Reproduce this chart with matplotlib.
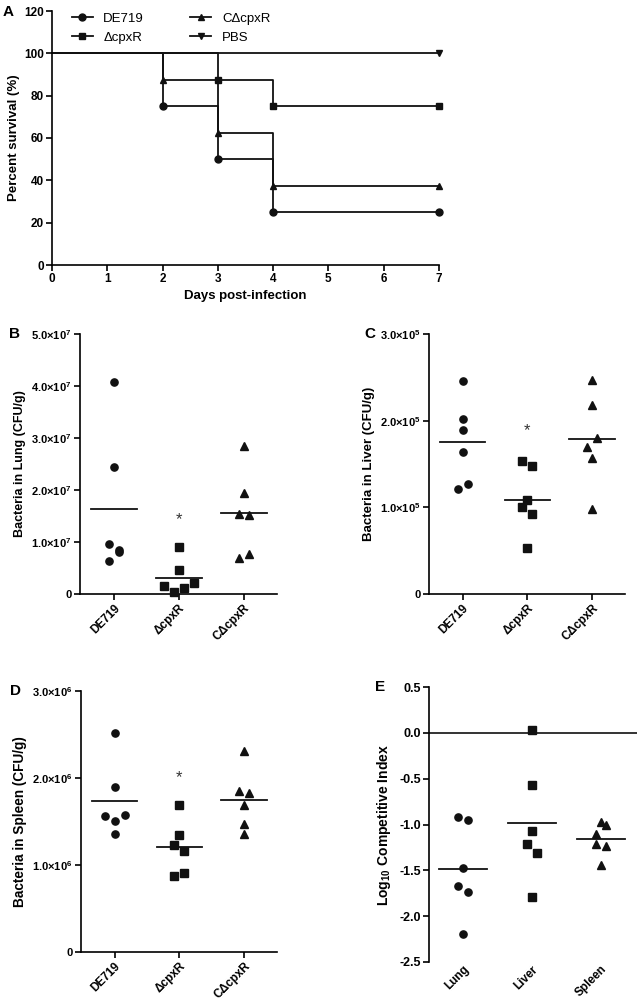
import numpy as np
import matplotlib
matplotlib.use("Agg")
import matplotlib.pyplot as plt
from matplotlib.lines import Line2D

plt.rcParams['font.family'] = ['Liberation Sans', 'DejaVu Sans']
plt.rcParams['mathtext.fontset'] = 'custom'
plt.rcParams['mathtext.rm'] = 'Liberation Sans:bold'
plt.rcParams['mathtext.bf'] = 'Liberation Sans:bold'
plt.rcParams['mathtext.default'] = 'rm'

# ---------------- Data ----------------
# Panel A: survival curves
days_de719 = [0, 2, 3, 4, 7]
surv_de719 = [100, 75, 50, 25, 25]
days_dcpxr = [0, 3, 4, 7]
surv_dcpxr = [100, 87.5, 75, 75]
days_cdcpxr = [0, 2, 3, 4, 7]
surv_cdcpxr = [100, 87.5, 62.5, 37.5, 37.5]
days_pbs = [0, 7]
surv_pbs = [100, 100]

strains = ['DE719', '\u0394cpxR', 'C\u0394cpxR']

# Panel B: lung (x1e6 CFU/g)
lung_de719 = [40.7, 24.5, 9.6, 8.5, 8.1, 6.4]
lung_dcpxr = [9.0, 4.55, 1.5, 0.45, 1.1, 2.05]
lung_cdcpxr = [28.5, 19.4, 15.3, 15.2, 6.9, 7.6]
lung_star = 14.3

# Panel C: liver (x1e3 CFU/g)
liver_de719 = [246.3, 202.5, 188.7, 163.4, 121.2, 127.4]
liver_dcpxr = [153.4, 147.3, 108.2, 100.1, 92.1, 52.9]
liver_cdcpxr = [246.6, 218.6, 179.5, 169.5, 156.9, 98.6]
liver_star = 188.0

# Panel D: spleen (x1e6 CFU/g)
spleen_de719 = [2.512, 1.891, 1.561, 1.507, 1.576, 1.362]
spleen_dcpxr = [1.692, 1.346, 1.227, 1.162, 0.909, 0.875]
spleen_cdcpxr = [2.309, 1.845, 1.826, 1.688, 1.477, 1.358]
spleen_star = 2.01

# Panel E: log10 competitive index
organs = ['Lung', 'Liver', 'Spleen']
ci_lung = [-0.918, -0.946, -1.478, -1.67, -1.733, -2.19]
ci_liver = [0.027, -0.565, -1.071, -1.209, -1.307, -1.787]
ci_spleen = [-0.969, -1.005, -1.107, -1.213, -1.238, -1.438]

# jitter layout (category units)
jit_B = [[0, 0, -0.077, 0.077, 0.077, -0.077],
         [0, 0, -0.23, -0.08, 0.08, 0.23],
         [0, 0, -0.077, 0.077, -0.077, 0.077]]
jit_C = [[0, 0, 0, 0, -0.077, 0.077],
         [-0.087, 0.072, 0, -0.082, 0.072, 0],
         [0, 0, 0.077, -0.077, 0, 0]]
jit_D = [[0, 0, -0.154, 0, 0.154, 0],
         [0, 0, -0.077, 0.077, 0.077, -0.077],
         [0, -0.077, 0.077, 0, 0, 0]]
jit_E = [[-0.072, 0.072, 0, -0.072, 0.072, 0],
         [0, 0, 0, -0.072, 0.077, 0],
         [0, 0.072, -0.077, -0.077, 0.072, 0]]

markers = ['o', 's', '^']
W, H = 638, 1002
fig = plt.figure(figsize=(W / 100, H / 100), dpi=100)


def box(l, t, r, b):
    return [l / W, 1 - b / H, (r - l) / W, (b - t) / H]


LW = 1.2
INK = '#111111'


def style_axes(ax, tickfs=8):
    for s in ['top', 'right']:
        ax.spines[s].set_visible(False)
    for s in ['left', 'bottom']:
        ax.spines[s].set_linewidth(LW)
    ax.tick_params(direction='out', width=LW, length=4, labelsize=tickfs, pad=2)
    for lab in ax.get_yticklabels() + ax.get_xticklabels():
        lab.set_fontweight('bold')


# ---------------- Panel A ----------------
axA = fig.add_axes(box(52, 11, 439, 265))
series = [(days_de719, surv_de719, 'o', 'DE719'),
          (days_dcpxr, surv_dcpxr, 's', '\u0394cpxR'),
          (days_cdcpxr, surv_cdcpxr, '^', 'C\u0394cpxR'),
          (days_pbs, surv_pbs, 'v', 'PBS')]
handles = []
for d, s, m, lab in series:
    axA.step(d, s, where='post', color=INK, lw=1.3, clip_on=False)
    axA.plot(d[1:], s[1:], ls='none', marker=m, color=INK, ms=5, clip_on=False)
    handles.append(Line2D([], [], color=INK, lw=1.3, marker=m, ms=5, label=lab))
axA.set_xlim(0, 7)
axA.set_ylim(0, 120)
axA.set_xticks(range(0, 8))
axA.set_yticks(range(0, 121, 20))
style_axes(axA, 8.5)
axA.set_xlabel('Days post-infection', fontsize=9.5, fontweight='bold', labelpad=3)
axA.set_ylabel('Percent survival (%)', fontsize=9.5, fontweight='bold', labelpad=3)
axA.legend(handles=handles, ncol=2, frameon=False, loc='upper left',
           bbox_to_anchor=(0.02, 1.04), fontsize=9.5, handlelength=1.6,
           columnspacing=3.5, labelspacing=0.5, handletextpad=0.8)
fig.text(3 / W, 1 - 12 / H, 'A', fontsize=11, fontweight='bold', va='center', ha='left')


def dot_panel(rect, groups, jits, labels, ylim, yticks, yticklabels, ylabel, star_y,
              letter, letter_xy, hline=None, star_idx=1, ylabfs=9, tickfs=8):
    ax = fig.add_axes(box(*rect))
    for i, (vals, jit) in enumerate(zip(groups, jits)):
        xs = np.full(len(vals), i, dtype=float) + np.array(jit)
        ax.plot(xs, vals, ls='none', marker=markers[i], color=INK, ms=5.2,
                clip_on=False, zorder=3)
        mu = np.mean(vals)
        ax.plot([i - 0.35, i + 0.35], [mu, mu], color=INK, lw=1.3, zorder=2)
    if star_y is not None:
        ax.text(star_idx, star_y, '*', ha='center', va='center', fontsize=12, color='#333333')
    ax.set_xlim(-0.52, 2.51)
    ax.set_ylim(*ylim)
    ax.set_yticks(yticks)
    ax.set_yticklabels(yticklabels)
    ax.set_xticks(range(len(labels)))
    ax.set_xticklabels(labels, rotation=45, ha='right', rotation_mode='anchor')
    style_axes(ax, tickfs)
    for lab in ax.get_xticklabels():
        lab.set_fontsize(8.5)
    ax.set_ylabel(ylabel, fontsize=ylabfs, fontweight='bold', labelpad=4)
    if hline is not None:
        ax.axhline(hline, color=INK, lw=1.2, zorder=1)
    fig.text(letter_xy[0] / W, 1 - letter_xy[1] / H, letter, fontsize=11,
             fontweight='bold', va='center', ha='left')
    return ax


def sci_labels(vals, exp):
    out = []
    for v in vals:
        if v == 0:
            out.append('0')
        else:
            out.append(r'%.1f$\mathregular{\times}$10$^{%d}$' % (v, exp))
    return out


# Panel B
axB = dot_panel((80, 334, 277, 594), [lung_de719, lung_dcpxr, lung_cdcpxr], jit_B, strains,
                (0, 50), [0, 10, 20, 30, 40, 50], sci_labels([0, 1, 2, 3, 4, 5], 7),
                'Bacteria in Lung (CFU/g)', lung_star, 'B', (9, 334), ylabfs=9)

# Panel C
axC = dot_panel((429, 334, 625, 594), [liver_de719, liver_dcpxr, liver_cdcpxr], jit_C, strains,
                (0, 300), [0, 100, 200, 300], sci_labels([0, 1, 2, 3], 5),
                'Bacteria in Liver (CFU/g)', liver_star, 'C', (364, 334), ylabfs=9.5)

# Panel D
axD = dot_panel((81, 691, 277, 952), [spleen_de719, spleen_dcpxr, spleen_cdcpxr], jit_D, strains,
                (0, 3), [0, 1, 2, 3], sci_labels([0, 1, 2, 3], 6),
                'Bacteria in Spleen (CFU/g)', spleen_star, 'D', (10, 691), ylabfs=9.8)

# Panel E
axE = dot_panel((429, 687, 637, 962), [ci_lung, ci_liver, ci_spleen], jit_E, organs,
                (-2.5, 0.5), [0.5, 0.0, -0.5, -1.0, -1.5, -2.0, -2.5],
                ['0.5', '0.0', '-0.5', '-1.0', '-1.5', '-2.0', '-2.5'],
                r'Log$_{10}$ Competitive Index', None, 'E', (375, 687), hline=0.0,
                ylabfs=10, tickfs=9)
axE.set_xlim(-0.49, 2.52)
axE.spines['bottom'].set_visible(False)
axE.tick_params(axis='x', length=0, pad=1)

fig.savefig('out.png', dpi=100)
